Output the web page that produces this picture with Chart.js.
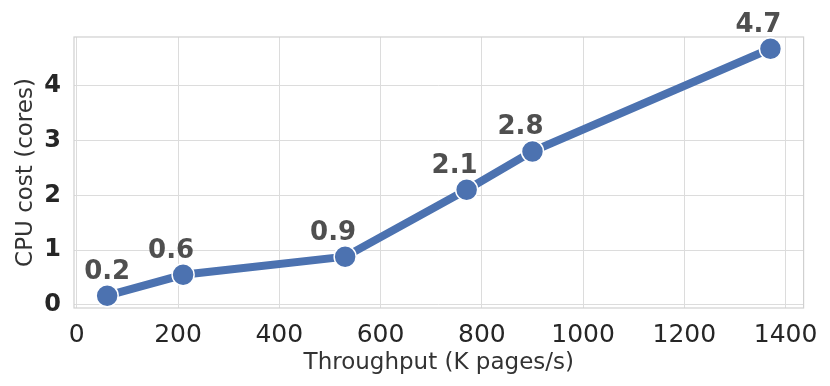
<!DOCTYPE html>
<html>
<head>
<meta charset="utf-8">
<script src="https://cdn.jsdelivr.net/npm/chart.js@4.4.1/dist/chart.umd.min.js"></script>
<style>
  html, body { margin: 0; padding: 0; background: #fff; }
  #wrap { width: 830px; height: 386px; }
</style>
</head>
<body>
<div id="wrap"><canvas id="cpuChart" width="830" height="386"></canvas></div>
<script>
// throughput (K pages/s) vs CPU cost (cores)
var throughput = [60, 210, 530, 770, 900, 1370];
var cpuCost = [0.17, 0.55, 0.88, 2.1, 2.8, 4.67];
var xTicks = [0, 200, 400, 600, 800, 1000, 1200, 1400];
var yTicks = [0, 1, 2, 3, 4];

// horizontal nudge of each value label (label style, not data)
var labelShift = [0, -12, -12, -12, -12, -12];

var points = throughput.map(function (x, i) {
    return { x: x, y: cpuCost[i] };
});

// frame around the plot area + value labels above the markers
var framePlugin = {
    id: 'frame',
    beforeDatasetsDraw: function (chart) {
        var a = chart.chartArea, ctx = chart.ctx;
        ctx.save();
        ctx.strokeStyle = '#d0d0d0';
        ctx.lineWidth = 1.2;
        ctx.strokeRect(a.left, a.top, a.right - a.left, a.bottom - a.top);
        ctx.restore();
    },
    afterDatasetsDraw: function (chart) {
        var ctx = chart.ctx;
        var meta = chart.getDatasetMeta(0);
        ctx.save();
        ctx.font = 'bold 26px "DejaVu Sans"';
        ctx.fillStyle = '#4f4f4f';
        ctx.textAlign = 'center';
        ctx.textBaseline = 'alphabetic';
        meta.data.forEach(function (pt, i) {
            ctx.fillText(cpuCost[i].toFixed(1), pt.x + labelShift[i], pt.y - 17);
        });
        ctx.restore();
    }
};

function plainLabel(value) { return String(value); }

var config = {
    type: 'line',
    data: {
        datasets: [{
            data: points,
            borderColor: '#4C72B0',
            backgroundColor: '#4C72B0',
            borderWidth: 8,
            pointRadius: 11,
            pointHoverRadius: 11,
            pointBorderColor: '#ffffff',
            pointBorderWidth: 1.5,
            tension: 0
        }]
    },
    plugins: [framePlugin],
    options: {
        responsive: false,
        animation: false,
        layout: { padding: { left: 0, top: 37, right: 23, bottom: 0 } },
        plugins: {
            legend: { display: false },
            tooltip: { enabled: false }
        },
        scales: {
            x: {
                type: 'linear',
                min: -5.5,
                max: 1435.5,
                afterBuildTicks: function (scale) {
                    scale.ticks = xTicks.map(function (v) { return { value: v }; });
                },
                afterFit: function (scale) { scale.height = 78; },
                grid: { color: '#dcdcdc', lineWidth: 1, drawTicks: false },
                border: { display: false },
                ticks: {
                    padding: 12,
                    color: '#262626',
                    callback: plainLabel,
                    font: { family: 'DejaVu Sans', size: 25 }
                },
                title: {
                    display: true,
                    text: 'Throughput (K pages/s)',
                    color: '#333333',
                    font: { family: 'DejaVu Sans', size: 23 },
                    padding: { top: 0, bottom: 9 }
                }
            },
            y: {
                min: -0.055,
                max: 4.885,
                afterBuildTicks: function (scale) {
                    scale.ticks = yTicks.map(function (v) { return { value: v }; });
                },
                afterFit: function (scale) { scale.width = 74; },
                grid: { color: '#dcdcdc', lineWidth: 1, drawTicks: false },
                border: { display: false },
                ticks: {
                    padding: 13,
                    color: '#262626',
                    callback: plainLabel,
                    font: { family: 'DejaVu Sans', size: 24, weight: 'bold' }
                },
                title: {
                    display: true,
                    text: 'CPU cost (cores)',
                    color: '#333333',
                    font: { family: 'DejaVu Sans', size: 23 },
                    padding: { top: 12, bottom: 0 }
                }
            }
        }
    }
};

var cpuChart = new Chart(
    document.getElementById('cpuChart'),
    config
);
</script>
</body>
</html>
